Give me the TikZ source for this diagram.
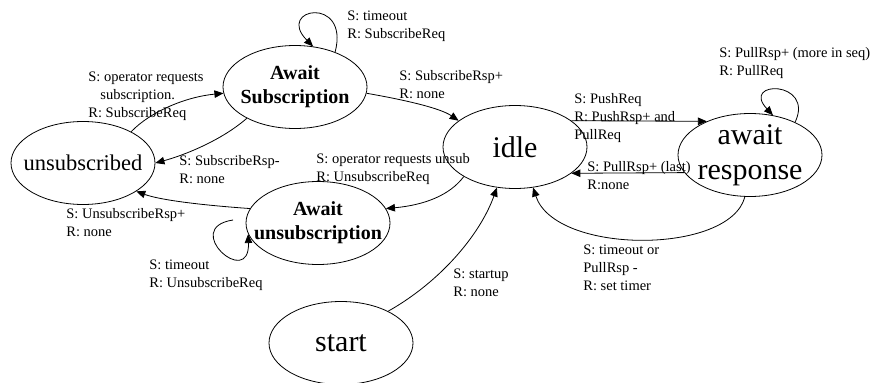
\documentclass[tikz,border=0pt]{standalone}
\usepackage{fontspec}
\setmainfont{Liberation Serif}
\usetikzlibrary{shapes.geometric,arrows.meta}

\begin{document}
\begin{tikzpicture}[x=1pt,y=-1pt,line width=0.8pt,
	ell/.style={ellipse,draw,inner sep=0pt,minimum width=144pt,minimum height=83pt},
	big/.style={font=\fontsize{30}{35}\selectfont,align=center},
	bld/.style={font=\fontsize{20}{24}\selectfont\bfseries,align=center},
	lab/.style={font=\fontsize{14.5}{18}\selectfont,align=left,anchor=north west,inner sep=0pt},
	arr/.style={-{Triangle[length=9pt,width=7.5pt]}}]
\useasboundingbox (0,0) rectangle (879,383);
\path (295,87) node[ell,label={[bld]center:Await\\Subscription}] (as) {}
		(83,163) node[ell,label={[big,font=\fontsize{22.5}{27}\selectfont]center:unsubscribed}] (un) {}
		(515,147) node[ell,label={[big]center:idle}] (idle) {}
		(750,155) node[ell,label={[big]center:await\\response}] (ar) {}
		(318,223) node[ell,label={[bld]center:Await\\unsubscription}] (au) {}
		(341,343) node[ell,label={[big]center:start}] (st) {}
		;
\path (347,10) node[lab] (t1) {S: timeout\\R: SubscribeReq}
		(88,71) node[lab] (t2) {S: operator requests\\\hspace*{12pt}subscription.\\R: SubscribeReq}
		(179,155) node[lab] (t3) {S: SubscribeRsp-\\R: none}
		(399,70) node[lab] (t4) {S: SubscribeRsp+\\R: none}
		(574,93) node[lab] (t5) {S: PushReq\\R: PushRsp+ and\\PullReq}
		(587,161) node[lab] (t6) {S: PullRsp+ (last)\\R:none}
		(719,47) node[lab] (t7) {S: PullRsp+ (more in seq)\\R: PullReq}
		(316,153) node[lab] (t8) {S: operator requests unsub\\R: UnsubscribeReq}
		(66,208) node[lab] (t9) {S: UnsubscribeRsp+\\R: none}
		(149,259) node[lab] (t10) {S: timeout\\R: UnsubscribeReq}
		(453,268) node[lab] (t11) {S: startup\\R: none}
		(583,244) node[lab] (t12) {S: timeout or\\PullRsp -\\R: set timer}
		;
\coordinate (aul) at (233,220);
\draw [arr] (node cs:name=as,angle=41) .. controls (350,-5) and (275,8) .. (node cs:name=as,angle=66);
\draw [arr] (node cs:name=un,angle=33) .. controls (150,112) and (185,97) .. (node cs:name=as,angle=185);
\draw [arr] (node cs:name=as,angle=213) .. controls (222,140) and (185,155) .. (node cs:name=un,angle=0);
\draw [arr] (node cs:name=as,angle=-5) .. controls (405,100) and (440,108) .. (node cs:name=idle,angle=155);
\draw [arr] (node cs:name=idle,angle=25) -- (node cs:name=ar,angle=142);
\draw [arr] (node cs:name=ar,angle=195.5) -- (node cs:name=idle,angle=-25);
\draw [arr] (node cs:name=ar,angle=36) .. controls (815,80) and (740,80) .. (node cs:name=ar,angle=60);
\draw [arr] (node cs:name=idle,angle=210) .. controls (450,195) and (425,205) .. (node cs:name=au,angle=12);
\draw [arr] (node cs:name=au,angle=168) .. controls (200,205) and (160,200) .. (node cs:name=un,angle=-28);
\draw [arr] (aul) .. controls (180,228) and (250,290) .. (node cs:name=au,angle=189);
\draw [arr] (node cs:name=st,angle=34) .. controls (440,282) and (480,235) .. (node cs:name=idle,angle=246);
\draw [arr] (node cs:name=ar,angle=263) .. controls (730,255) and (555,255) .. (node cs:name=idle,angle=294);
\end{tikzpicture}
\end{document}
